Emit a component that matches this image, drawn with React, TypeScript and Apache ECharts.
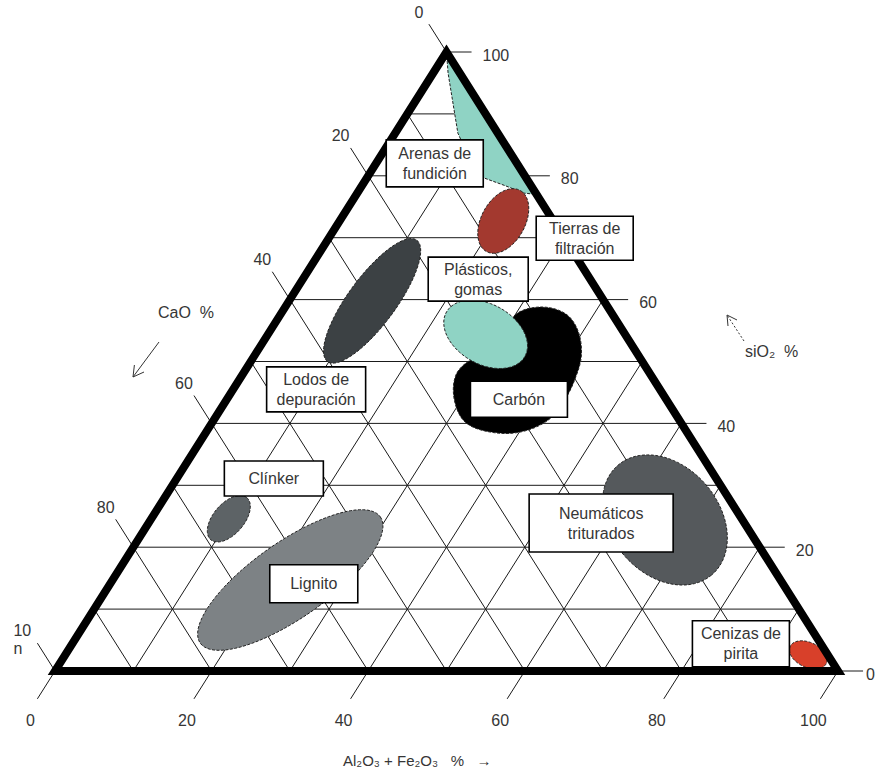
import React, { useEffect, useRef } from "react";
import * as echarts from "echarts";

// ---------- data: compositions in %, written as [SiO2, Al2O3+Fe2O3]; CaO = 100 - both ----------
const GRID_LEVELS = [10, 20, 30, 40, 50, 60, 70, 80, 90];
const SIO2_TICKS = [0, 20, 40, 60, 80, 100];
const SIO2_TICK_LABELS = ["0", "20", "40", "60", "80", "100"];
const CAO_TICKS = [0, 20, 40, 60, 80, 100];
const CAO_TICK_LABELS = ["0", "20", "40", "60", "80", "10\nn"];
const AL_TICKS = [0, 20, 40, 60, 80, 100];
const AL_TICK_LABELS = ["0", "20", "40", "60", "80", "100"];

const ARENAS_OUTLINE = [
  [100, 0], [96.6, 1.9], [86.9, 8.0], [82.6, 11.7], [79.6, 15.1], [78.4, 18.3], [77.2, 21.3], [77.0, 23.0],
];
const CARBON_OUTLINE = [
  [57.5, 30.0], [58.8, 32.5], [57.8, 36.2], [55.1, 39.2], [51.05, 41.7], [47.3, 42.8], [43.8, 43.2], [40.5, 42.7],
  [38.6, 40.1], [38.6, 36.3], [40.2, 32.3], [43.8, 29.1], [47.8, 27.3], [50.2, 27.9], [51.9, 30.2], [54.3, 31.0],
];

const ELLIPSE_FIELDS = ["Tierras de filtración", "Plásticos, gomas", "Lodos de depuración", "Clínker", "Lignito", "Neumáticos triturados", "Cenizas de pirita"];
const ELLIPSE_CENTER = [[72.7, 20.9], [54.4, 27.8], [59.8, 10.6], [24.6, 9.9], [14.7, 22.7], [24.4, 65.7], [2.6, 94.9]];
const ELLIPSE_MAJOR_END = [[77.6, 20.65], [50.8, 34.6], [69.6, 11.4], [28.0, 10.5], [24.9, 29.1], [15.5, 76.1], [1.2, 97.9]];
const ELLIPSE_MINOR_END = [[70.9, 24.2], [50.2, 28.0], [57.5, 14.2], [23.0, 12.2], [9.7, 28.0], [18.8, 63.2], [0.8, 95.1]];

const LABEL_TEXTS = [
  "Arenas de\nfundición", "Tierras de\nfiltración", "Plásticos,\ngomas", "Carbón", "Lodos de\ndepuración",
  "Clínker", "Lignito", "Neumáticos\ntriturados", "Cenizas de\npirita",
];
const LABEL_ANCHORS = [
  [82.0, 7.5], [69.9, 32.7], [63.3, 22.4], [43.9, 37.3], [45.5, 10.6], [31.1, 12.4], [14.1, 26.0], [23.9, 57.8], [4.4, 85.4],
];

// ---------- styles ----------
const FONT = "'Liberation Sans', Arial, sans-serif";
const TEXT_COLOR = "#363636";
const ARENAS_COLOR = "#8fd3c4";
const CARBON_COLOR = "#000000";
const ELLIPSE_COLORS = ["#a3392f", "#8fd3c4", "#3c4144", "#5d6366", "#7d8285", "#55595c", "#d8402a"];
const LABEL_BOX_SIZE = [[97, 47], [97, 44], [100, 44], [97, 36], [99, 45], [99, 35], [88, 38], [144, 58], [97, 46]];
const TICK_EXT = 4.5;
const TICK_EXT_H = 3.2;
const PAGE_W = 877;

function renderItem(params: any, api: any) {
  const pt = (c: number[]) => api.coord([c[1] + c[0] / 2, c[0]]) as number[];
  const kids: any[] = [];
  const seg = (a: number[], b: number[], w = 1, color = "#1a1a1a") =>
    kids.push({ type: "line", shape: { x1: a[0], y1: a[1], x2: b[0], y2: b[1] }, style: { stroke: color, lineWidth: w } });
  const txt = (t: string, x: number, y: number, align: string, size = 16) =>
    kids.push({
      type: "text", x, y,
      style: { text: t, fill: TEXT_COLOR, fontSize: size, fontFamily: FONT, align, verticalAlign: "middle", lineHeight: 18 },
    });

  // internal grid
  GRID_LEVELS.forEach((k) => {
    seg(pt([k, 0]), pt([k, 100 - k]));
    seg(pt([0, k]), pt([100 - k, k]));
    seg(pt([100 - k, 0]), pt([0, 100 - k]));
  });

  // ticks + labels
  SIO2_TICKS.forEach((s, i) => {
    const a = pt([s, 100 - s]);
    const b = pt([s, 100 - s + TICK_EXT_H]);
    seg(a, b);
    txt(SIO2_TICK_LABELS[i], Math.min(b[0] + 11, PAGE_W - 11), b[1] + 3, "left");
  });
  AL_TICKS.forEach((v, i) => {
    const a = pt([0, v]);
    const b = pt([-TICK_EXT, v]);
    seg(a, b);
    txt(AL_TICK_LABELS[i], b[0] - 7, b[1] + 22, "center");
  });
  CAO_TICKS.forEach((c, i) => {
    const a = pt([100 - c, 0]);
    const b = pt([100 - c + TICK_EXT, -TICK_EXT]);
    seg(a, b);
    const multi = CAO_TICK_LABELS[i].indexOf("\n") >= 0;
    txt(CAO_TICK_LABELS[i], b[0] - (multi ? 24 : 10), b[1] - (multi ? 4 : 12), multi ? "left" : "center");
  });

  const fieldStroke = { stroke: "#222", lineWidth: 1, lineDash: [3, 1.5] };
  const poly = (pts: number[][], fill: string, smooth = 0) =>
    kids.push({ type: "polygon", shape: { points: pts, smooth }, style: { fill, ...fieldStroke } });
  const ellipse = (i: number) => {
    const c = pt(ELLIPSE_CENTER[i]);
    const m = pt(ELLIPSE_MAJOR_END[i]);
    const n = pt(ELLIPSE_MINOR_END[i]);
    const pts: number[][] = [];
    for (let j = 0; j < 90; j++) {
      const t = (j / 90) * Math.PI * 2;
      pts.push([
        c[0] + Math.cos(t) * (m[0] - c[0]) + Math.sin(t) * (n[0] - c[0]),
        c[1] + Math.cos(t) * (m[1] - c[1]) + Math.sin(t) * (n[1] - c[1]),
      ]);
    }
    poly(pts, ELLIPSE_COLORS[i]);
  };

  // fields
  poly(ARENAS_OUTLINE.map(pt), ARENAS_COLOR);
  ellipse(0);
  poly(CARBON_OUTLINE.map(pt), CARBON_COLOR, 0.35);
  for (let i = 1; i < ELLIPSE_FIELDS.length; i++) ellipse(i);

  // triangle border
  kids.push({
    type: "polygon",
    shape: { points: [pt([100, 0]), pt([0, 0]), pt([0, 100])] },
    style: { fill: "none", stroke: "#000", lineWidth: 8, lineJoin: "miter", miterLimit: 10 },
  });

  // label boxes
  LABEL_TEXTS.forEach((t, i) => {
    const p = pt(LABEL_ANCHORS[i]);
    const [w, h] = LABEL_BOX_SIZE[i];
    kids.push({
      type: "rect",
      shape: { x: p[0] - w / 2, y: p[1] - h / 2, width: w, height: h },
      style: { fill: "#fff", stroke: "#000", lineWidth: 1.6 },
    });
    kids.push({
      type: "text", x: p[0], y: p[1],
      style: { text: t, fill: TEXT_COLOR, fontSize: 16, fontFamily: FONT, align: "center", verticalAlign: "middle", lineHeight: 20 },
    });
  });

  return { type: "group", children: kids };
}

const option: any = {
  animation: false,
  backgroundColor: "#fff",
  grid: { left: 55, top: 52, width: 783, height: 619 },
  xAxis: { type: "value", min: 0, max: 100, show: false },
  yAxis: { type: "value", min: 0, max: 100, show: false },
  series: [
    {
      type: "custom",
      coordinateSystem: "cartesian2d",
      clip: false,
      silent: true,
      data: [[50, 50]],
      renderItem,
    },
  ],
  graphic: [
    { type: "text", left: 158, top: 304, style: { text: "CaO  %", fontSize: 16, fontFamily: FONT, fill: TEXT_COLOR } },
    { type: "line", shape: { x1: 159, y1: 342, x2: 133, y2: 377 }, style: { stroke: "#333", lineWidth: 1 } },
    { type: "polyline", shape: { points: [[144, 372], [133, 377], [134.4, 365]] }, style: { stroke: "#333", lineWidth: 1, fill: "none" } },
    { type: "text", left: 745, top: 343, style: { text: "siO₂  %", fontSize: 16, fontFamily: FONT, fill: TEXT_COLOR } },
    { type: "line", shape: { x1: 744, y1: 341, x2: 727, y2: 315 }, style: { stroke: "#333", lineWidth: 1, lineDash: [2, 2] } },
    { type: "polyline", shape: { points: [[728, 326], [727, 315], [737, 320]] }, style: { stroke: "#333", lineWidth: 1, fill: "none" } },
    { type: "text", left: 343, top: 753, style: { text: "Al₂O₃ + Fe₂O₃   %   →", fontSize: 15, fontFamily: FONT, fill: TEXT_COLOR } },
  ],
};

export default function App() {
  const ref = useRef<HTMLDivElement>(null);
  useEffect(() => {
    const chart = echarts.init(ref.current!, null, { renderer: "svg" });
    chart.setOption(option);
    return () => chart.dispose();
  }, []);
  return (
    <div
      ref={ref}
      style={{ position: "absolute", left: 0, top: 0, width: 877, height: 770, background: "#fff" }}
    />
  );
}
